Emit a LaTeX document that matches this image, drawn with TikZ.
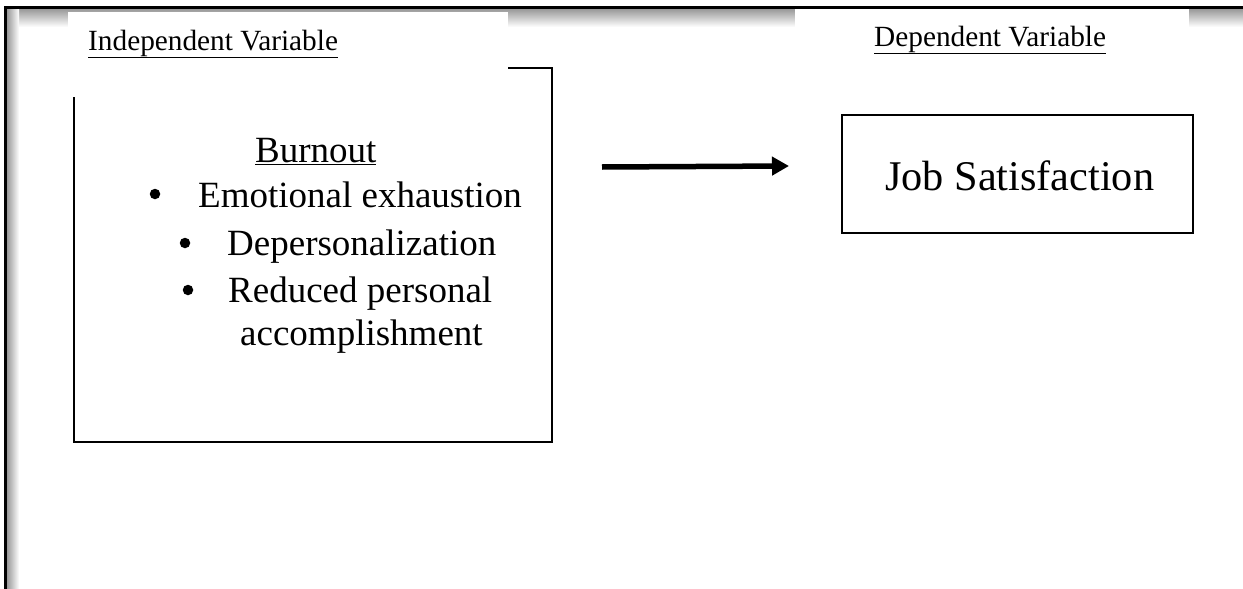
\documentclass[tikz,border=0pt]{standalone}
\usepackage{fontspec}
\setmainfont{Liberation Serif}
\usetikzlibrary{arrows.meta}
\tikzset{
  box/.style={draw, line width=2pt, inner sep=0pt},
  lbl/.style={fill=white, inner sep=0pt},
  txt/.style={anchor=base west, inner sep=0pt},
  bul/.style={circle, fill=black, inner sep=0pt, minimum size=10.5pt},
  conn/.style={line width=5.5pt, -{Triangle[length=17pt,width=18pt]}},
}
\newcommand{\fs}[1]{\fontsize{#1}{#1}\selectfont}
\newcommand{\myul}[1]{\underline{#1}}
\begin{document}
\begin{tikzpicture}[x=1pt,y=-1pt]
\useasboundingbox (0,0) rectangle (1243,589);
% page frame with shadow
\shade[top color=gray!80, bottom color=white] (6,9) rectangle (1243,27);
\shade[left color=gray!80, right color=white] (7,9) rectangle (19,589);
\draw[line width=3pt] (5,589) -- (5,7) -- (1243,7);
% boxes
\node[box, minimum width=478pt, minimum height=374pt] (burn) at (313,255) {};
\node[box, minimum width=351pt, minimum height=118pt] (job) at (1017.5,174) {};
% label cover boxes
\node[lbl, minimum width=440pt, minimum height=85pt] (indepbg) at (288,54.5) {};
\node[lbl, minimum width=394pt, minimum height=70pt] (depbg) at (992,44) {};
% labels
\node[txt] (indep) at (88,50) {\fs{29.3}\myul{Independent Variable}};
\node[txt] (dep) at (874,46) {\fs{29.3}\myul{Dependent Variable}};
% burnout content
\node[txt] (bt) at (255,162) {\fs{37}\myul{Burnout}};
\node[bul] (b1) at (155,194) {};
\node[txt] (t1) at (198,207) {\fs{37}Emotional exhaustion};
\node[bul] (b2) at (185,243) {};
\node[txt] (t2) at (227,255) {\fs{37}Depersonalization};
\node[bul] (b3) at (188,290) {};
\node[txt] (t3) at (228,302) {\fs{37}Reduced personal};
\node[txt] (t4) at (240,345) {\fs{37}accomplishment};
% job satisfaction
\node[txt] (jt) at (885,190) {\fs{42.3}Job Satisfaction};
% arrow
\coordinate (a1) at (602,167);
\coordinate (a2) at (789,166);
\draw[conn] (a1) -- (a2);
\end{tikzpicture}
\end{document}
